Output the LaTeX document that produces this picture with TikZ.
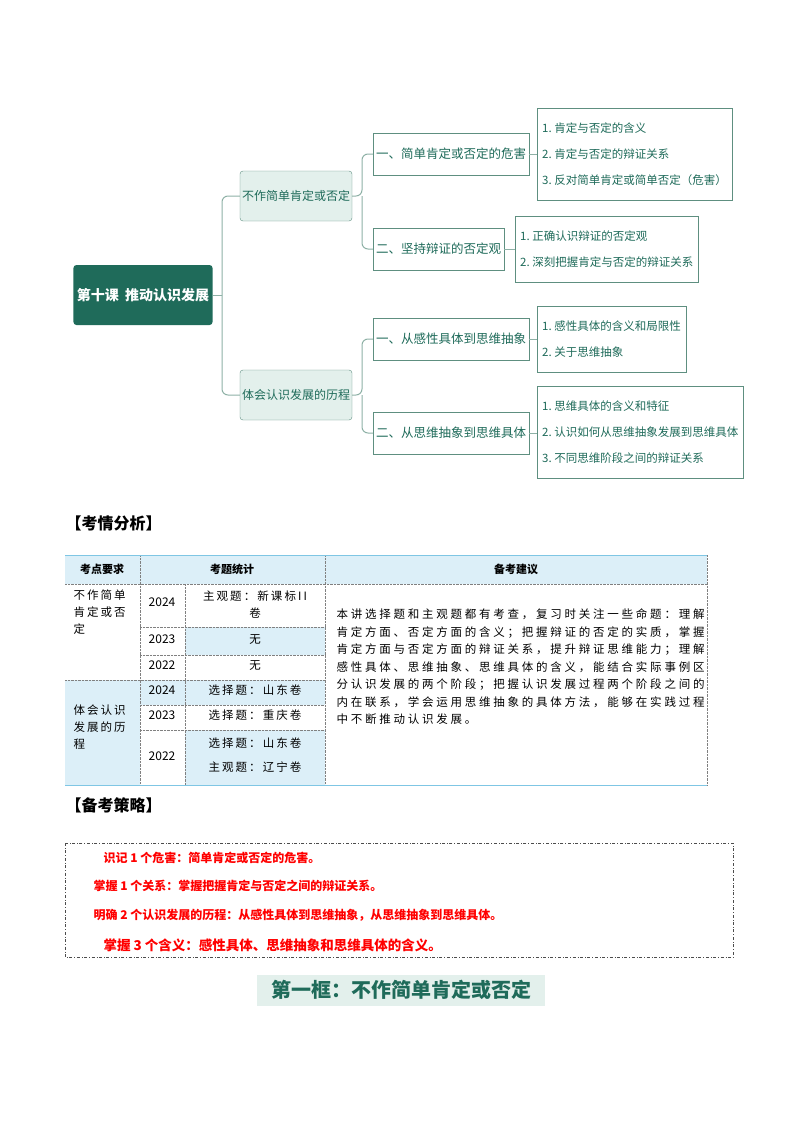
\documentclass[tikz,border=0pt]{standalone}
\usepackage{fontspec}
\setmainfont{Noto Sans CJK SC}
\definecolor{dg}{HTML}{1F6B5A}
\definecolor{lg}{HTML}{E3F0EC}
\definecolor{bd}{HTML}{5E8F80}
\definecolor{lb}{HTML}{DCEFF8}
\definecolor{tb}{HTML}{7FC6E4}
\begin{document}
\begin{tikzpicture}[x=1pt,y=-1pt,
  l1/.style={draw=bd,fill=lg,rounded corners=3pt,minimum height=50pt,minimum width=112pt,align=center,font=\fontsize{12}{15}\selectfont,text=dg,inner sep=2pt},
  l2/.style={draw=bd,fill=white,minimum height=42pt,align=left,font=\fontsize{12.5}{15}\selectfont,text=dg,anchor=west,inner sep=3pt},
  l3/.style={draw=bd,fill=white,align=left,font=\fontsize{11.5}{26}\selectfont,text=dg,anchor=north west,inner sep=5pt},
  con/.style={draw=bd!70,line width=1pt,rounded corners=6pt},
  cell/.style={font=\fontsize{11.5}{17}\selectfont\addfontfeatures{LetterSpace=18},align=center},
  yr/.style={font=\fontsize{12}{15}\selectfont},
  red/.style={text=red,font=\bfseries\fontsize{12}{14}\selectfont,anchor=west}]
\useasboundingbox (0,0) rectangle (800,1132);
% mindmap
\node[fill=dg,rounded corners=3pt,minimum width=122pt,minimum height=60pt,text=white,font=\bfseries\fontsize{14}{16}\selectfont] (root) at (143,295) {第十课\ \ 推动认识发展};
\node[l1] (a) at (296,196) {不作简单肯定或否定};
\node[l1] (b) at (296,395) {体会认识发展的历程};
\node[l2,minimum width=142pt] (a1) at (373,154) {一、简单肯定或否定的危害};
\node[l2,minimum width=120pt] (a2) at (373,249) {二、坚持辩证的否定观};
\node[l2,minimum width=142pt] (b1) at (373,339) {一、从感性具体到思维抽象};
\node[l2,minimum width=142pt] (b2) at (373,433) {二、从思维抽象到思维具体};
\node[l3,minimum width=180pt,minimum height=92pt] (a1x) at (537,108) {1.\ 肯定与否定的含义\\2.\ 肯定与否定的辩证关系\\3.\ 反对简单肯定或简单否定（危害）};
\node[l3,minimum width=165pt,minimum height=66pt] (a2x) at (515,216) {1.\ 正确认识辩证的否定观\\2.\ 深刻把握肯定与否定的辩证关系};
\node[l3,minimum width=136pt,minimum height=66pt] (b1x) at (537,306) {1.\ 感性具体的含义和局限性\\2.\ 关于思维抽象};
\node[l3,minimum width=185pt,minimum height=92pt] (b2x) at (537,386) {1.\ 思维具体的含义和特征\\2.\ 认识如何从思维抽象发展到思维具体\\3.\ 不同思维阶段之间的辩证关系};
\coordinate (r1) at (222,295);
\coordinate (r2) at (362,196);
\coordinate (r3) at (362,395);
\draw[con] (root.east) -- (r1);
\draw[con] (r1) |- (a.west);
\draw[con] (r1) |- (b.west);
\draw[con] (a.east) -- (r2) |- (a1.west);
\draw[con] (r2) |- (a2.west);
\draw[con] (b.east) -- (r3) |- (b1.west);
\draw[con] (r3) |- (b2.west);
\draw[con] (a1.east) -- (a1.east -| a1x.west);
\draw[con] (a2.east) -- (a2.east -| a2x.west);
\draw[con] (b1.east) -- (b1.east -| b1x.west);
\draw[con] (b2.east) -- (b2.east -| b2x.west);
% heading
\node[anchor=west,font=\bfseries\fontsize{16}{18}\selectfont] (h1) at (62,523) {【考情分析】};
% table fills
\fill[lb] (65,555) rectangle (707,584);
\fill[lb] (65,680) rectangle (140,785);
\fill[lb] (140,680) rectangle (325,705);
\fill[lb] (185,627) rectangle (325,655);
\fill[lb] (185,730) rectangle (325,785);
\draw[gray,densely dotted] (65,584) -- (707,584) (140,627)--(325,627) (140,655)--(325,655) (65,680)--(325,680) (140,705)--(325,705) (140,730)--(325,730);
\draw[gray,densely dotted] (140,555)--(140,785) (185,584)--(185,785) (325,555)--(325,785) (707,555)--(707,785);
\draw[tb,line width=1pt] (65,555)--(707,555) (65,785)--(707,785);
\node[font=\bfseries\fontsize{11}{14}\selectfont] (t1) at (102,569) {考点要求};
\node[font=\bfseries\fontsize{11}{14}\selectfont] (t2) at (232,569) {考题统计};
\node[font=\bfseries\fontsize{11}{14}\selectfont] (t3) at (516,569) {备考建议};
\node[cell,align=left,anchor=west] (c1) at (70,612) {不作简单\\肯定或否\\定};
\node[cell,align=left,anchor=west] (c2) at (70,727) {体会认识\\发展的历\\程};
\node[yr] (y1) at (162,602) {2024};
\node[yr] (y2) at (162,639) {2023};
\node[yr] (y3) at (162,665) {2022};
\node[yr] (y4) at (162,690) {2024};
\node[yr] (y5) at (162,715) {2023};
\node[yr] (y6) at (162,756) {2022};
\node[cell] (s1) at (255,605) {主观题：新课标II\\卷};
\node[cell] (s2) at (255,640) {无};
\node[cell] (s3) at (255,666) {无};
\node[cell] (s4) at (255,690) {选择题：山东卷};
\node[cell] (s5) at (255,715) {选择题：重庆卷};
\node[cell,font=\fontsize{11.5}{24}\selectfont\addfontfeatures{LetterSpace=18}] (s6) at (255,755) {选择题：山东卷\\主观题：辽宁卷};
\node[cell,align=left,anchor=west,font=\fontsize{11.5}{17.5}\selectfont\addfontfeatures{LetterSpace=24}] (adv) at (333,667) {本讲选择题和主观题都有考查，复习时关注一些命题：理解\\肯定方面、否定方面的含义；把握辩证的否定的实质，掌握\\肯定方面与否定方面的辩证关系，提升辩证思维能力；理解\\感性具体、思维抽象、思维具体的含义，能结合实际事例区\\分认识发展的两个阶段；把握认识发展过程两个阶段之间的\\内在联系，学会运用思维抽象的具体方法，能够在实践过程\\中不断推动认识发展。};
% strategy
\node[anchor=west,font=\bfseries\fontsize{16}{18}\selectfont] (h2) at (62,805) {【备考策略】};
\draw[dash dot,gray!60!black] (65,843) rectangle (733,957);
\node[red] (r1t) at (100,858) {识记 1 个危害：简单肯定或否定的危害。};
\node[red] (r2t) at (90,886) {掌握 1 个关系：掌握把握肯定与否定之间的辩证关系。};
\node[red] (r3t) at (90,915) {明确 2 个认识发展的历程：从感性具体到思维抽象，从思维抽象到思维具体。};
\node[red,font=\bfseries\fontsize{13.5}{16}\selectfont] (r4t) at (100,945) {掌握 3 个含义：感性具体、思维抽象和思维具体的含义。};
\node[fill=lg,text=dg,minimum width=288pt,minimum height=31pt,font=\bfseries\fontsize{20}{22}\selectfont] (ttl) at (401,990) {第一框：不作简单肯定或否定};
\end{tikzpicture}
\end{document}
